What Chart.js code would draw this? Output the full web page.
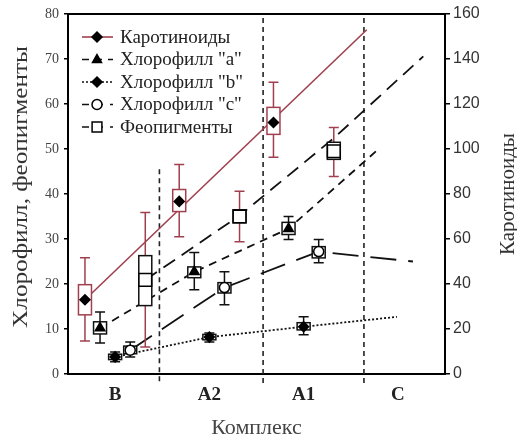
<!DOCTYPE html>
<html>
<head>
<meta charset="utf-8">
<script src="https://cdn.jsdelivr.net/npm/chart.js@4.4.0/dist/chart.umd.min.js"></script>
<style>
  html, body { margin: 0; padding: 0; background: #fff; }
  #wrap { width: 517px; height: 443px; }
</style>
</head>
<body>
<div id="wrap"><canvas id="chart"></canvas></div>
<script>
// categories on the x axis (B, A2, A1 have samples, C only the extension)
const groups = ['B', 'A2', 'A1', 'C'];
const names = ['Каротиноиды', 'Хлорофилл "a"', 'Хлорофилл "b"', 'Хлорофилл "c"', 'Феопигменты'];
const offsets = [-0.32, -0.16, 0, 0.16, 0.32];   // spread of the series inside a group
const zoneEdges = [0.47, 1.57, 2.64];            // dashed separators between complexes

// Каротиноиды (right axis)
const carMean = [33, 76.7, 111.8];
const carBoxLo = [26.3, 72.2, 106.5];
const carBoxHi = [39.7, 82, 118.5];
const carErrLo = [14.7, 61, 96.3];
const carErrHi = [51.7, 93.1, 129.7];
const carLineX = [-0.32, 2.67];
const carLineY = [33, 153];

// Хлорофилл "a"
const chlAMean = [10.2, 22.7, 32.3];
const chlABoxLo = [8.9, 21.4, 31.0];
const chlABoxHi = [11.6, 23.8, 33.7];
const chlAErrLo = [6.9, 18.7, 29.9];
const chlAErrHi = [13.8, 27.0, 35.0];
const chlALineX = [-0.16, 0.84, 1.84, 2.79];
const chlALineY = [10.2, 22.7, 32.3, 49.9];

// Хлорофилл "b"
const chlBMean = [3.8, 8.2, 10.5];
const chlBBoxLo = [3.2, 7.6, 9.8];
const chlBBoxHi = [4.4, 8.8, 11.4];
const chlBErrLo = [2.7, 7.1, 8.7];
const chlBErrHi = [4.9, 9.1, 12.7];
const chlBLineX = [0, 1, 2, 2.99];
const chlBLineY = [3.8, 8.2, 10.5, 12.7];

// Хлорофилл "c"
const chlCMean = [5.3, 19.2, 27.2];
const chlCBoxLo = [4.5, 18.0, 25.8];
const chlCBoxHi = [6.2, 20.3, 28.3];
const chlCErrLo = [3.8, 15.4, 24.7];
const chlCErrHi = [7.1, 22.7, 29.9];
const chlCLineX = [0.16, 1.16, 2.16, 3.16];
const chlCLineY = [5.3, 19.2, 27.2, 25.0];

// Феопигменты
const pheoMean = [20.9, 35.0, 49.5];
const pheoBoxLo = [15.2, 33.6, 47.7];
const pheoBoxHi = [26.3, 36.5, 51.5];
const pheoErrLo = [6.0, 29.4, 43.9];
const pheoErrHi = [35.9, 40.6, 54.8];
const pheoLineX = [0.32, 1.32, 2.32, 3.27];
const pheoLineY = [20.9, 35.2, 52.4, 70.6];

const RED = '#a0404f';
const SERIF = "'Liberation Serif', 'Times New Roman', serif";

const series = [
  { mean: carMean, boxLo: carBoxLo, boxHi: carBoxHi, errLo: carErrLo, errHi: carErrHi, lx: carLineX, ly: carLineY,
    axis: 'y2', color: RED, dash: [], marker: 'rectRot', r: 5, fill: '#000', boxColor: RED, errColor: RED },
  { mean: chlAMean, boxLo: chlABoxLo, boxHi: chlABoxHi, errLo: chlAErrLo, errHi: chlAErrHi, lx: chlALineX, ly: chlALineY,
    axis: 'y', color: '#111', dash: [8, 6], marker: 'triangle', r: 5.5, fill: '#000', boxColor: '#111', errColor: '#111' },
  { mean: chlBMean, boxLo: chlBBoxLo, boxHi: chlBBoxHi, errLo: chlBErrLo, errHi: chlBErrHi, lx: chlBLineX, ly: chlBLineY,
    axis: 'y', color: '#111', dash: [2, 2], marker: 'rectRot', r: 5, fill: '#000', boxColor: '#111', errColor: '#111' },
  { mean: chlCMean, boxLo: chlCBoxLo, boxHi: chlCBoxHi, errLo: chlCErrLo, errHi: chlCErrHi, lx: chlCLineX, ly: chlCLineY,
    axis: 'y', color: '#111', dash: [26, 12], marker: 'circle', r: 5, fill: '#fff', boxColor: '#111', errColor: '#111' },
  { mean: pheoMean, boxLo: pheoBoxLo, boxHi: pheoBoxHi, errLo: pheoErrLo, errHi: pheoErrHi, lx: pheoLineX, ly: pheoLineY,
    axis: 'y', color: '#111', dash: [14, 8], marker: 'rect', r: 9, fill: '#fff', boxColor: '#111', errColor: RED }
];

const datasets = [];
series.forEach((s, k) => {
  datasets.push({
    label: names[k] + ' line',
    data: s.lx.map((x, i) => ({ x: x, y: s.ly[i] })),
    yAxisID: s.axis,
    showLine: true,
    borderColor: s.color,
    borderWidth: k === 0 ? 1.6 : 1.8,
    borderDash: s.dash,
    pointRadius: 0,
    order: 1
  });
});
series.forEach((s, k) => {
  datasets.push({
    label: names[k],
    data: s.mean.map((v, i) => ({ x: i + offsets[k], y: v })),
    yAxisID: s.axis,
    showLine: false,
    pointStyle: s.marker,
    pointRadius: s.r,
    pointBackgroundColor: s.fill,
    pointBorderColor: '#000',
    pointBorderWidth: 1.5,
    order: 0,
    boxLo: s.boxLo, boxHi: s.boxHi, errLo: s.errLo, errHi: s.errHi,
    boxColor: s.boxColor, errColor: s.errColor
  });
});

function shape(ctx, kind, x, y, r, fill) {
  ctx.beginPath();
  if (kind === 'circle') ctx.arc(x, y, r, 0, Math.PI * 2);
  else if (kind === 'rect') ctx.rect(x - r * 0.7, y - r * 0.7, r * 1.4, r * 1.4);
  else if (kind === 'triangle') { ctx.moveTo(x, y - r); ctx.lineTo(x + r * 0.9, y + r * 0.6); ctx.lineTo(x - r * 0.9, y + r * 0.6); ctx.closePath(); }
  else { ctx.moveTo(x, y - r); ctx.lineTo(x + r, y); ctx.lineTo(x, y + r); ctx.lineTo(x - r, y); ctx.closePath(); }
  ctx.fillStyle = fill; ctx.fill();
  ctx.lineWidth = 1.5; ctx.strokeStyle = '#000'; ctx.stroke();
}

const decor = {
  id: 'decor',
  beforeDatasetsDraw(chart) {
    const { ctx, chartArea: a, scales } = chart;
    ctx.save();
    // top frame
    ctx.strokeStyle = '#000'; ctx.lineWidth = 2;
    ctx.beginPath(); ctx.moveTo(a.left - 1, a.top); ctx.lineTo(a.right + 1, a.top); ctx.stroke();
    // zone separators
    ctx.strokeStyle = '#222'; ctx.lineWidth = 1.6; ctx.setLineDash([5, 4]);
    zoneEdges.forEach((e, i) => {
      const x = scales.x.getPixelForValue(e);
      const top = i === 0 ? scales.y.getPixelForValue(45.5) : a.top + 4;
      ctx.beginPath(); ctx.moveTo(x, top); ctx.lineTo(x, a.bottom + 10); ctx.stroke();
    });
    ctx.restore();
  },
  beforeDatasetDraw(chart, args) {
    const ds = chart.data.datasets[args.index];
    if (!ds.boxLo) return;
    const ctx = chart.ctx;
    const ys = chart.scales[ds.yAxisID];
    ctx.save();
    ctx.lineWidth = 1.5;
    args.meta.data.forEach((pt, i) => {
      const x = pt.x;
      const eHi = ys.getPixelForValue(ds.errHi[i]), eLo = ys.getPixelForValue(ds.errLo[i]);
      const bHi = ys.getPixelForValue(ds.boxHi[i]), bLo = ys.getPixelForValue(ds.boxLo[i]);
      ctx.strokeStyle = ds.errColor;
      ctx.beginPath();
      ctx.moveTo(x, eHi); ctx.lineTo(x, eLo);
      ctx.moveTo(x - 5, eHi); ctx.lineTo(x + 5, eHi);
      ctx.moveTo(x - 5, eLo); ctx.lineTo(x + 5, eLo);
      ctx.stroke();
      ctx.fillStyle = '#fff';
      ctx.strokeStyle = ds.boxColor;
      ctx.fillRect(x - 6.5, bHi, 13, bLo - bHi);
      ctx.strokeRect(x - 6.5, bHi, 13, bLo - bHi);
    });
    ctx.restore();
  },
  afterDraw(chart) {
    const { ctx, chartArea: a } = chart;
    ctx.save();
    // legend
    ctx.font = '19px ' + SERIF;
    ctx.textBaseline = 'middle';
    series.forEach((s, k) => {
      const y = 37 + k * 22.5;
      ctx.strokeStyle = s.color; ctx.lineWidth = 1.6;
      ctx.setLineDash(s.dash.length ? s.dash.map(d => Math.min(d, 7)) : []);
      ctx.beginPath(); ctx.moveTo(82, y); ctx.lineTo(113, y); ctx.stroke();
      ctx.setLineDash([]);
      shape(ctx, s.marker, 97, y, s.marker === 'rect' ? 7 : 5, s.fill);
      ctx.fillStyle = '#222';
      ctx.fillText(names[k], 120, y + 1);
    });
    // axis titles, both reading bottom to top (left one is drawn taller in the source)
    ctx.font = '21px ' + SERIF;
    ctx.fillStyle = '#333';
    ctx.textAlign = 'center';
    [[21, 187, 'Хлорофилл, феопигменты', 1.2], [508, (a.top + a.bottom) / 2, 'Каротиноиды', 1]].forEach(([x, y, t, stretch]) => {
      ctx.save(); ctx.translate(x, y); ctx.rotate(-Math.PI / 2); ctx.scale(stretch, 1);
      ctx.fillText(t, 0, 0);
      ctx.restore();
    });
    ctx.restore();
  }
};

new Chart(document.getElementById('chart'), {
  type: 'scatter',
  data: { datasets: datasets },
  plugins: [decor],
  options: {
    responsive: true,
    maintainAspectRatio: false,
    animation: false,
    layout: { padding: { top: 14 } },
    plugins: { legend: { display: false }, tooltip: { enabled: false } },
    scales: {
      x: {
        type: 'linear', min: -0.5, max: 3.5,
        afterBuildTicks: s => { s.ticks = groups.map((g, i) => ({ value: i })); },
        afterFit: s => { s.height = 69; },
        grid: { display: false, drawTicks: false },
        border: { color: '#000', width: 2 },
        ticks: { padding: 10, color: '#222', font: { family: SERIF, size: 19, weight: 'bold' }, callback: v => groups[v] },
        title: { display: true, text: 'Комплекс', color: '#444', font: { family: SERIF, size: 22 }, padding: { top: 0, bottom: 2 } }
      },
      y: {
        position: 'left', min: 0, max: 80,
        afterFit: s => { s.width = 68; },
        grid: { drawOnChartArea: false, tickLength: 4, color: '#000', lineWidth: 1.5 },
        border: { color: '#000', width: 2 },
        ticks: { stepSize: 10, padding: 5, color: '#444', font: { family: SERIF, size: 14 } }
      },
      y2: {
        position: 'right', min: 0, max: 160,
        afterFit: s => { s.width = 72; },
        grid: { drawOnChartArea: false, tickLength: 5, color: '#000', lineWidth: 1.5 },
        border: { color: '#000', width: 2 },
        ticks: { stepSize: 20, padding: 3, color: '#333', font: { family: "'Liberation Sans', Arial, sans-serif", size: 16 } }
      }
    }
  }
});
</script>
</body>
</html>
